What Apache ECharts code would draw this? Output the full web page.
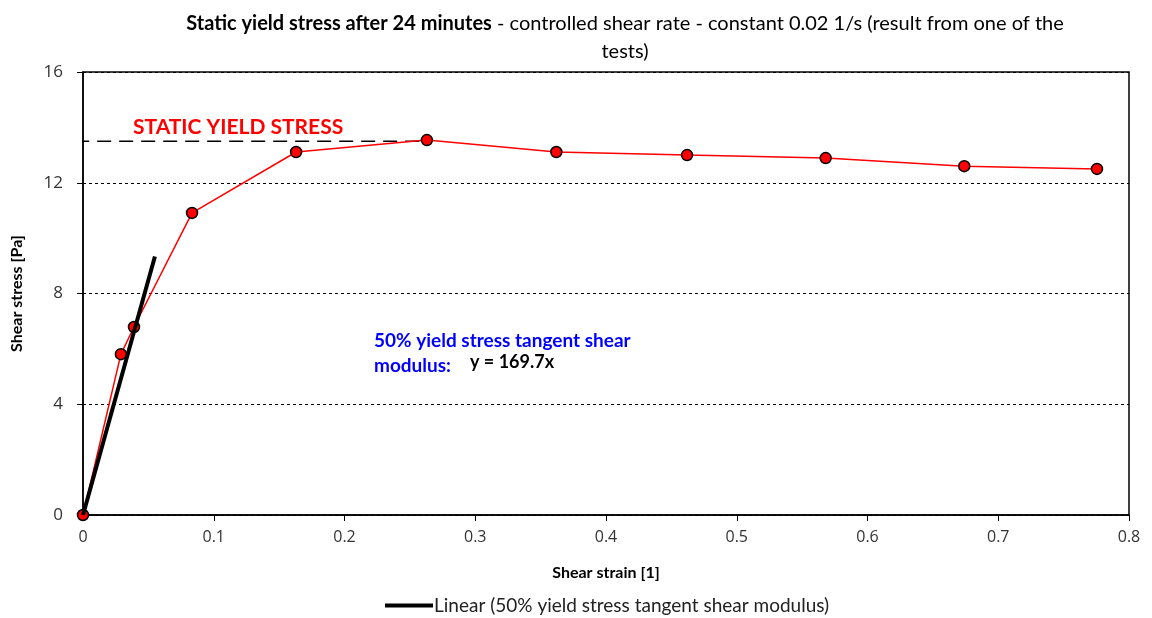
<!DOCTYPE html>
<html><head><meta charset="utf-8">
<script src="https://cdn.jsdelivr.net/npm/echarts@6/dist/echarts.min.js"></script>
<style>html,body{margin:0;padding:0;background:#fff}#c{width:1152px;height:618px}</style>
</head><body><div id="c"></div>
<script>
const strain = [0, 0.029, 0.039, 0.0834, 0.163, 0.263, 0.362, 0.462, 0.568, 0.674, 0.7755];
const stress = [0, 5.81, 6.79, 10.91, 13.11, 13.54, 13.11, 13.0, 12.89, 12.6, 12.5];
const slope = 169.7;
const linearX = [0, 0.055];
const staticYield = 13.5;
const staticYieldX = [-0.006, 0.263];
const xTicks = [0, 0.1, 0.2, 0.3, 0.4, 0.5, 0.6, 0.7, 0.8];
const yTicks = [0, 4, 8, 12, 16];

const font = 'Lato, "Open Sans", sans-serif';
const tickFont = '"Open Sans", sans-serif';
const chart = echarts.init(document.getElementById('c'));
chart.setOption({
  animation: false,
  title: {
    text: '{b|Static yield stress after 24 minutes}{n| - controlled shear rate - constant 0.02 1/s (result from one of the}\n{n|tests)}',
    left: 620, top: 5, textAlign: 'center',
    textStyle: {
      fontWeight: 'normal',
      rich: {
        b: {fontFamily: font, fontWeight: 'bold', fontSize: 20, color: '#000', lineHeight: 28},
        n: {fontFamily: font, fontWeight: 'normal', fontSize: 20, color: '#000', lineHeight: 28}
      }
    }
  },
  grid: {left: 83, right: 23, top: 72, bottom: 103, show: true, borderColor: '#000', borderWidth: 1.5},
  legend: {
    bottom: -2, left: 380,
    data: ['Linear (50% yield stress tangent shear modulus)'],
    itemWidth: 48, itemHeight: 4, itemGap: 0,
    textStyle: {fontFamily: font, fontSize: 19, color: '#222', padding: [0, 0, 0, -4]},
    icon: 'rect'
  },
  xAxis: {
    type: 'value', min: 0, max: 0.8, interval: 0.1,
    name: 'Shear strain [1]', nameLocation: 'middle', nameGap: 50,
    nameTextStyle: {fontFamily: font, fontWeight: 'bold', fontSize: 16, color: '#000'},
    axisLine: {show: true, lineStyle: {color: '#000', width: 1.5}},
    axisTick: {show: true, inside: false, length: 6, lineStyle: {color: '#000'}},
    axisLabel: {fontFamily: tickFont, fontSize: 16, color: '#333', margin: 14,
      formatter: v => xTicks.includes(Math.round(v*10)/10) ? String(Math.round(v*10)/10) : ''},
    splitLine: {show: false}
  },
  yAxis: {
    type: 'value', min: 0, max: 16, interval: 4,
    name: 'Shear stress [Pa]', nameLocation: 'middle', nameGap: 58, nameRotate: 90,
    nameTextStyle: {fontFamily: font, fontWeight: 'bold', fontSize: 16, color: '#000'},
    axisLine: {show: true, lineStyle: {color: '#000', width: 1.5}},
    axisTick: {show: true, inside: false, length: 6, lineStyle: {color: '#000'}},
    axisLabel: {fontFamily: tickFont, fontSize: 17, color: '#333', margin: 20,
      formatter: v => yTicks.includes(v) ? String(v) : ''},
    splitLine: {show: true, lineStyle: {color: '#000', type: [3, 3], width: 1}}
  },
  series: [
    {
      name: 'static', type: 'line', data: staticYieldX.map(x => [x, staticYield]),
      symbol: 'none', lineStyle: {color: '#000', width: 1.5, type: [14, 8]}, z: 2, silent: true,
      clip: false
    },
    {
      name: 'data', type: 'line', data: strain.map((x, i) => [x, stress[i]]),
      symbol: 'circle', symbolSize: 11,
      itemStyle: {color: '#ff0000', borderColor: '#000', borderWidth: 1.5},
      lineStyle: {color: '#ff0000', width: 1.5}, z: 3
    },
    {
      name: 'Linear (50% yield stress tangent shear modulus)', type: 'line',
      data: linearX.map(x => [x, slope * x]),
      symbol: 'none', lineStyle: {color: '#000', width: 4}, itemStyle: {color: '#000'}, z: 4
    }
  ],
  graphic: [
    {type: 'text', left: 133, top: 117, style: {text: 'STATIC YIELD STRESS', fill: '#ff0000',
      font: 'bold 21px ' + font}},
    {type: 'text', left: 374, top: 328, style: {text: '50% yield stress tangent shear\nmodulus:', fill: '#0000ff',
      font: 'bold 19px ' + font, lineHeight: 25}},
    {type: 'text', left: 470, top: 353, style: {text: 'y = 169.7x', fill: '#000',
      font: 'bold 18px ' + font}}
  ]
});
</script></body></html>
